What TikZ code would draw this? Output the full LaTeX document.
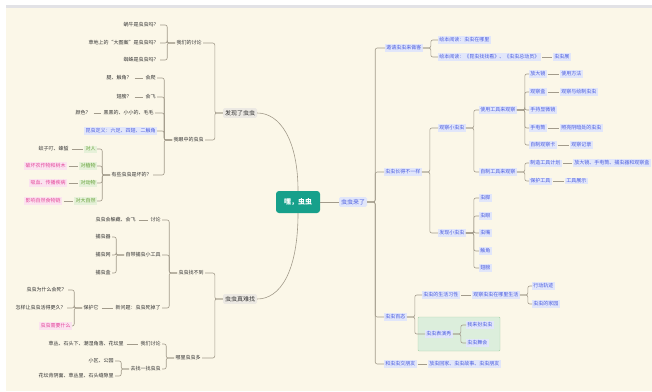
\documentclass[tikz,border=0pt]{standalone}
\usepackage{fontspec}
\newfontfamily\cjk{Noto Sans CJK SC}
\definecolor{Crema}{HTML}{FBF7E8}
\definecolor{Banda}{HTML}{E2E2E6}
\definecolor{Tinta}{HTML}{333333}
\definecolor{Linea}{HTML}{A29B8B}
\definecolor{Turquesa}{HTML}{17A08B}
\definecolor{Gris}{HTML}{ECE9E3}
\definecolor{Azul}{HTML}{4B5DE0}
\definecolor{AzulClaro}{HTML}{E1E6FA}
\definecolor{Rosa}{HTML}{E4469A}
\definecolor{RosaClaro}{HTML}{FBE3EF}
\definecolor{Verde}{HTML}{62A034}
\definecolor{VerdeClaro}{HTML}{E6F1D9}
\definecolor{VerdeCaja}{HTML}{DCEEDC}
\definecolor{VerdeBorde}{HTML}{A9D3A9}
\newcommand{\ramaI}[2]{\foreach \c in {#2}{\draw[rama] (#1.west) -- ++(-8pt,0pt) |- (\c.east);}}
\newcommand{\ramaD}[2]{\foreach \c in {#2}{\draw[rama] (#1.east) -- ++(8pt,0pt) |- (\c.west);}}

\begin{document}
\begin{tikzpicture}[x=1pt, y=-1pt,
    txt/.style={text=Tinta, inner sep=1.2pt, font=\cjk\fontsize{5}{6}\selectfont},
    azul/.style={txt, text=Azul, fill=AzulClaro},
    rosa/.style={txt, text=Rosa, fill=RosaClaro},
    verde/.style={txt, text=Verde, fill=VerdeClaro},
    tema/.style={txt, fill=Gris, inner sep=2pt, rounded corners=1.5pt, font=\cjk\fontsize{6}{7}\selectfont},
    raiz/.style={fill=Turquesa, text=white, rounded corners=3pt, minimum width=44pt, minimum height=22pt, font=\cjk\bfseries\fontsize{7}{8}\selectfont},
    rama/.style={draw=Linea, line width=0.6pt, rounded corners=2pt},
    guion/.style={rama, shorten <=1.5pt, shorten >=1.5pt}]
    % Fondo
    \fill[white] (0,0) rectangle (652,391);
    \fill[Crema] (6,8) rectangle (652,391);
    \fill[Banda] (6,5) rectangle (652,8);
    \useasboundingbox (0,0) rectangle (652,391);
    \draw[fill=VerdeCaja, draw=VerdeBorde, rounded corners=1pt] (418,317) rectangle (500,351);

    % Nodos centrales
    \node[raiz] (raiz) at (298,202) {嘿，虫虫};
    \node[tema] (faxian) at (240,113) {发现了虫虫};
    \node[tema] (nanzhao) at (240,299) {虫虫真难找};
    \node[tema, text=Azul, fill=AzulClaro] (laile) at (353,202) {虫虫来了};

    % Izquierda arriba
    \node[txt, anchor=east] (taolun) at (203,43) {我们的讨论};
    \node[txt, anchor=east] (wen1) at (160,25) {蜗牛是虫虫吗？};
    \node[txt, anchor=east] (wen2) at (160,43) {草地上的“大图案”是虫虫吗？};
    \node[txt, anchor=east] (wen3) at (160,60) {蜘蛛是虫虫吗？};
    \node[txt, anchor=east] (yanzhong) at (205,140) {我眼中的虫虫};
    \node[txt, anchor=east] (pa) at (157,78) {会爬};
    \node[txt, anchor=east] (pa0) at (133,78) {腿、触角？};
    \node[txt, anchor=east] (fei) at (157,97) {会飞};
    \node[txt, anchor=east] (fei0) at (133,97) {翅膀？};
    \node[txt, anchor=east] (yang) at (155,113) {黑黑的、小小的、毛毛};
    \node[txt, anchor=east] (yang0) at (92,113) {颜色？};
    \node[azul, anchor=east] (dingyi) at (157,131) {昆虫定义：六足、四翅、二触角};
    \node[txt, anchor=east] (huai) at (153,175) {有些虫虫是坏的？};
    \node[verde, anchor=east] (ren) at (97,149) {对人};
    \node[txt, anchor=east] (ren0) at (70,149) {蚊子叮、蜂蜇};
    \node[verde, anchor=east] (zhi) at (97,166) {对植物};
    \node[rosa, anchor=east] (zhi0) at (67,166) {破坏农作物和树木};
    \node[verde, anchor=east] (dong) at (97,183) {对动物};
    \node[rosa, anchor=east] (dong0) at (67,183) {吸血、传播疾病};
    \node[verde, anchor=east] (ziran) at (97,201) {对大自然};
    \node[rosa, anchor=east] (ziran0) at (62,201) {影响自然食物链};

    % Izquierda abajo
    \node[txt, anchor=east] (zhaobudao) at (205,273) {虫虫找不到};
    \node[txt, anchor=east] (tl2) at (162,220) {讨论};
    \node[txt, anchor=east] (tl20) at (137,220) {虫虫会躲藏、会飞};
    \node[txt, anchor=east] (gongju) at (162,255) {自带捕虫小工具};
    \node[txt, anchor=east] (qi) at (112,237) {捕虫器};
    \node[txt, anchor=east] (wang) at (112,255) {捕虫网};
    \node[txt, anchor=east] (he) at (112,273) {捕虫盒};
    \node[txt, anchor=east] (si) at (162,308) {新问题：虫虫死掉了};
    \node[txt, anchor=east] (baohu) at (100,308) {保护它};
    \node[txt, anchor=east] (bh1) at (68,290) {虫虫为什么会死？};
    \node[txt, anchor=east] (bh2) at (67,308) {怎样让虫虫活得更久？};
    \node[rosa, anchor=east] (bh3) at (72,326) {虫虫需要什么};
    \node[txt, anchor=east] (duo) at (202,358) {哪里虫虫多};
    \node[txt, anchor=east] (tl3) at (162,344) {我们讨论};
    \node[txt, anchor=east] (tl30) at (125,344) {草丛、石头下、潮湿角落、花坛里};
    \node[txt, anchor=east] (zhao) at (162,369) {去找一找虫虫};
    \node[txt, anchor=east] (zh1) at (115,361) {小区、公园};
    \node[txt, anchor=east] (zh2) at (115,376) {花坛背阴面、草丛里、石头缝隙里};

    % Derecha
    \node[azul, anchor=west] (zuoke) at (385,48) {邀请虫虫来做客};
    \node[azul, anchor=west] (hb1) at (438,40) {绘本阅读：虫虫在哪里};
    \node[azul, anchor=west] (hb2) at (438,57) {绘本阅读：《昆虫找找看》、《虫虫总动员》};
    \node[azul, anchor=west] (zhan) at (553,57) {虫虫展};
    \node[azul, anchor=west] (yiyang) at (384,172) {虫虫长得不一样};
    \node[azul, anchor=west] (guancha) at (438,128) {观察小虫虫};
    \node[azul, anchor=west] (shiyong) at (479,110) {使用工具来观察};
    \node[azul, anchor=west] (fdj) at (529,74) {放大镜};
    \node[azul, anchor=west] (fdj1) at (560,74) {使用方法};
    \node[azul, anchor=west] (gch) at (529,92) {观察盒};
    \node[azul, anchor=west] (gch1) at (560,92) {观察与绘制虫虫};
    \node[azul, anchor=west] (xwj) at (529,110) {手持显微镜};
    \node[azul, anchor=west] (sdt) at (529,128) {手电筒};
    \node[azul, anchor=west] (sdt1) at (560,128) {照亮阴暗处的虫虫};
    \node[azul, anchor=west] (gck) at (529,145) {自制观察卡};
    \node[azul, anchor=west] (gck1) at (570,145) {观察记录};
    \node[azul, anchor=west] (zizhi) at (479,172) {自制工具来观察};
    \node[azul, anchor=west] (jh) at (529,163) {制造工具计划};
    \node[azul, anchor=west] (jh1) at (573,163) {放大镜、手电筒、捕虫器和观察盒};
    \node[azul, anchor=west] (bhgj) at (529,181) {保护工具};
    \node[azul, anchor=west] (bhgj1) at (565,181) {工具展示};
    \node[azul, anchor=west] (fxx) at (438,233) {发现小虫虫};
    \foreach \n/\t/\y in {jiao/虫脚/198, yan/虫眼/216, zui/虫嘴/233, chu/触角/251, chi/翅膀/268}
        \node[azul, anchor=west] (\n) at (479,\y) {\t};
    \node[azul, anchor=west] (baitai) at (384,317) {虫虫百态};
    \node[azul, anchor=west] (xixing) at (422,295) {虫虫的生活习性};
    \node[azul, anchor=west] (shenghuo) at (472,295) {观察虫虫在哪里生活};
    \node[azul, anchor=west] (gj) at (532,286) {行动轨迹};
    \node[azul, anchor=west] (jy) at (532,304) {虫虫的家园};
    \node[azul, anchor=west] (biaoyan) at (425,334) {虫虫表演秀};
    \node[azul, anchor=west] (by1) at (466,325) {我来扮虫虫};
    \node[azul, anchor=west] (by2) at (466,343) {虫虫舞会};
    \node[azul, anchor=west] (pengyou) at (384,364) {和虫虫交朋友};
    \node[azul, anchor=west] (py1) at (428,364) {放虫回家、虫虫故事、虫虫朋友};

    % Conexiones
    \draw[rama] (raiz) -- (laile);
    \draw[rama] (faxian.east) .. controls (280,113) and (298,140) .. (raiz.north);
    \draw[rama] (nanzhao.east) .. controls (280,299) and (298,272) .. (raiz.south);
    \ramaI{faxian}{taolun,yanzhong}
    \ramaI{taolun}{wen1,wen2,wen3}
    \ramaI{yanzhong}{pa,fei,yang,dingyi,huai}
    \ramaI{huai}{ren,zhi,dong,ziran}
    \ramaI{nanzhao}{zhaobudao,duo}
    \ramaI{zhaobudao}{tl2,gongju,si}
    \ramaI{gongju}{qi,wang,he}
    \ramaI{baohu}{bh1,bh2,bh3}
    \ramaI{duo}{tl3,zhao}
    \ramaI{zhao}{zh1,zh2}
    \ramaD{laile}{zuoke,yiyang,baitai,pengyou}
    \ramaD{zuoke}{hb1,hb2}
    \ramaD{yiyang}{guancha,fxx}
    \ramaD{guancha}{shiyong,zizhi}
    \ramaD{shiyong}{fdj,gch,xwj,sdt,gck}
    \ramaD{zizhi}{jh,bhgj}
    \ramaD{fxx}{jiao,yan,zui,chu,chi}
    \ramaD{baitai}{xixing,biaoyan}
    \ramaD{shenghuo}{gj,jy}
    \ramaD{biaoyan}{by1,by2}
    \foreach \a/\b in {pa0/pa, fei0/fei, yang0/yang, ren0/ren, zhi0/zhi, dong0/dong, ziran0/ziran,
        tl20/tl2, baohu/si, tl30/tl3, hb2/zhan, fdj/fdj1, gch/gch1, sdt/sdt1, gck/gck1,
        jh/jh1, bhgj/bhgj1, xixing/shenghuo, pengyou/py1}
        \draw[guion] (\a) -- (\b);
\end{tikzpicture}
\end{document}
